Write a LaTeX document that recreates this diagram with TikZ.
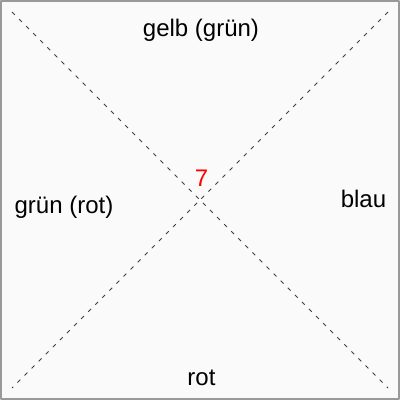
\documentclass[tikz,border=0pt]{standalone}
\usepackage{fontspec}
\setmainfont{Liberation Sans}

\begin{document}
\begin{tikzpicture}[x=1pt, y=1pt, line join=round,
    sidetext/.style={font=\fontsize{24}{28}\selectfont, inner sep=0pt, anchor=base},
    diag/.style={gray!50!black, line width=0.9pt, dash pattern=on 4pt off 6pt}]
    % --- Frame ---
    \draw[line width=2pt, gray!80, fill=white!98!black] (1,1) rectangle (399,399);
    \useasboundingbox (0,0) rectangle (400,400);

    % --- Diagonals through the centre ---
    \coordinate (NW) at (12,388);
    \coordinate (SE) at (388,12);
    \coordinate (NE) at (388,388);
    \coordinate (SW) at (12,12);
    \draw[diag] (NW) -- (SE);
    \draw[diag] (NE) -- (SW);

    % --- Side labels ---
    \node[sidetext] (top) at (201,363) {gelb (grün)};
    \node[sidetext] (left) at (64,186) {grün (rot)};
    \node[sidetext] (right) at (363.5,192) {blau};
    \node[sidetext] (bottom) at (201.5,15) {rot};

    % --- Number at the crossing ---
    \node[sidetext, red] (num) at (201.5,213) {7};

\end{tikzpicture}
\end{document}
